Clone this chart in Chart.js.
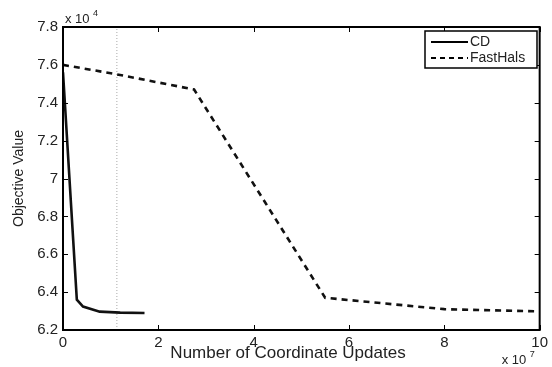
<!DOCTYPE html>
<html>
<head>
<meta charset="utf-8">
<script src="https://cdn.jsdelivr.net/npm/chart.js@4"></script>
<style>
  html, body { margin: 0; padding: 0; background: #fff; }
  #wrap { width: 552px; height: 367px; position: relative; }
</style>
</head>
<body>
<div id="wrap"><canvas id="chart"></canvas></div>
<script>
// x in units of 1e7 coordinate updates, y in units of 1e4
const cdX = [0, 0.29, 0.42, 0.77, 1.2, 1.71];
const cdY = [7.56, 6.36, 6.324, 6.297, 6.292, 6.29];
const fastHalsX = [0, 1.13, 2.75, 5.5, 8.0, 10];
const fastHalsY = [7.6, 7.55, 7.47, 6.37, 6.31, 6.298];
const markerX = [1.13, 1.13];
const markerY = [6.2, 7.8];
const seriesNames = ['CD', 'FastHals'];
const xTitle = 'Number of Coordinate Updates';

const toPoints = (xs, ys) => xs.map((x, i) => ({ x: x, y: ys[i] }));
const font = 'Liberation Sans, Arial, Helvetica, sans-serif';

// box, inward ticks, exponent labels, x title and legend, matlab style
const matlabBox = {
  id: 'matlabBox',
  afterDraw(chart) {
    const { ctx, chartArea: a, scales } = chart;
    ctx.save();
    ctx.strokeStyle = '#000';
    ctx.lineWidth = 2;
    ctx.strokeRect(a.left, a.top, a.right - a.left, a.bottom - a.top);

    ctx.lineWidth = 1;
    ctx.beginPath();
    scales.x.ticks.forEach(t => {
      const px = Math.round(scales.x.getPixelForValue(t.value)) + 0.5;
      ctx.moveTo(px, a.bottom); ctx.lineTo(px, a.bottom - 5);
      ctx.moveTo(px, a.top); ctx.lineTo(px, a.top + 5);
    });
    scales.y.ticks.forEach(t => {
      const py = Math.round(scales.y.getPixelForValue(t.value)) + 0.5;
      ctx.moveTo(a.left, py); ctx.lineTo(a.left + 5, py);
      ctx.moveTo(a.right, py); ctx.lineTo(a.right - 5, py);
    });
    ctx.stroke();

    // exponents
    ctx.fillStyle = '#222';
    ctx.textBaseline = 'alphabetic';
    ctx.textAlign = 'left';
    ctx.font = '13px ' + font;
    ctx.fillText('x 10', a.left + 2, a.top - 4);
    ctx.fillText('x 10', a.right - 38, a.bottom + 34);
    ctx.font = '9px ' + font;
    ctx.fillText('4', a.left + 30, a.top - 11);
    ctx.fillText('7', a.right - 10, a.bottom + 27);

    // x axis title
    ctx.font = '17px ' + font;
    ctx.textAlign = 'center';
    ctx.textBaseline = 'middle';
    ctx.fillText(xTitle, 288, a.bottom + 23);

    // legend
    const lx = 425, ly = 31, lw = 112, lh = 37;
    ctx.textAlign = 'left';
    ctx.fillStyle = '#fff';
    ctx.fillRect(lx, ly, lw, lh);
    ctx.lineWidth = 1.5;
    ctx.strokeRect(lx, ly, lw, lh);
    const rows = [ly + 11, ly + 27];
    const dashes = [[], [5, 4]];
    seriesNames.forEach((name, i) => {
      ctx.beginPath();
      ctx.setLineDash(dashes[i]);
      ctx.lineWidth = 2.2;
      ctx.moveTo(lx + 6, rows[i]);
      ctx.lineTo(lx + 43, rows[i]);
      ctx.stroke();
      ctx.setLineDash([]);
      ctx.fillStyle = '#222';
      ctx.font = '14px ' + font;
      ctx.fillText(name, lx + 45, rows[i]);
    });
    ctx.restore();
  }
};

new Chart(document.getElementById('chart'), {
  type: 'line',
  data: {
    datasets: [
      {
        label: seriesNames[0],
        data: toPoints(cdX, cdY),
        borderColor: '#111',
        borderWidth: 2.6,
        pointRadius: 0,
        tension: 0
      },
      {
        label: seriesNames[1],
        data: toPoints(fastHalsX, fastHalsY),
        borderColor: '#111',
        borderWidth: 2.6,
        borderDash: [6, 5],
        pointRadius: 0,
        tension: 0
      },
      {
        label: 'marker',
        data: toPoints(markerX, markerY),
        borderColor: '#aaa',
        borderWidth: 1,
        borderDash: [1, 2],
        pointRadius: 0
      }
    ]
  },
  options: {
    responsive: true,
    maintainAspectRatio: false,
    animation: false,
    layout: { padding: { top: 27, right: 9, left: 0, bottom: 0 } },
    plugins: { legend: { display: false }, tooltip: { enabled: false } },
    scales: {
      x: {
        type: 'linear',
        min: 0,
        max: 10,
        grid: { display: false, drawTicks: false },
        border: { display: false },
        ticks: { stepSize: 2, padding: 4, color: '#222', font: { size: 15, family: font } },
        afterFit: s => { s.height = 37; }
      },
      y: {
        type: 'linear',
        min: 6.2,
        max: 7.8,
        grid: { display: false, drawTicks: false },
        border: { display: false },
        ticks: {
          stepSize: 0.2,
          padding: 5,
          color: '#222',
          font: { size: 15, family: font },
          callback: v => {
            const r = Math.round(v * 10) / 10;
            return Number.isInteger(r) ? String(r) : r.toFixed(1);
          }
        },
        title: {
          display: true,
          text: 'Objective Value',
          color: '#222',
          font: { size: 14, family: font },
          padding: { top: 11, bottom: 11 }
        },
        afterFit: s => { s.width = 63; }
      }
    }
  },
  plugins: [matlabBox]
});
</script>
</body>
</html>
